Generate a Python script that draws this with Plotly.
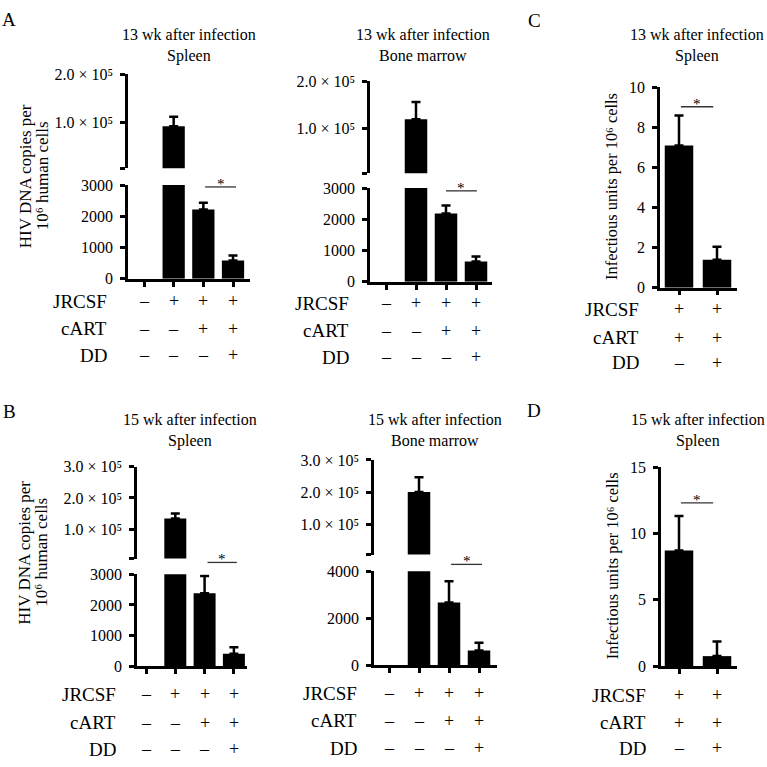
import plotly.graph_objects as go

W = H = 767
FONT = "Liberation Serif"

# ---------------- data ----------------
groups4 = [0, 1, 2, 3]
groups2 = [0, 1]
row_names = ["JRCSF", "cART", "DD"]
signs4 = [["–", "+", "+", "+"], ["–", "–", "+", "+"], ["–", "–", "–", "+"]]
signs2 = [["+", "+"], ["+", "+"], ["–", "+"]]

a_spleen_mean = [0, 92000, 2220, 590]
a_spleen_err = [0, 20000, 220, 160]
a_bm_mean = [0, 119000, 2190, 650]
a_bm_err = [0, 37000, 250, 160]
b_spleen_mean = [0, 134000, 2380, 400]
b_spleen_err = [0, 16000, 570, 220]
b_bm_mean = [0, 200000, 2670, 625]
b_bm_err = [0, 46000, 910, 330]
c_mean = [7.1, 1.4]
c_err = [1.5, 0.65]
d_mean = [8.7, 0.75]
d_err = [2.6, 1.1]

low_ticks_3000 = [0, 1000, 2000, 3000]
low_ticks_4000 = [0, 2000, 4000]
up_ticks_2e5 = [100000, 200000]
up_ticks_3e5 = [100000, 200000, 300000]
up_labels_2e5 = ["1.0 × 10⁵", "2.0 × 10⁵"]
up_labels_3e5 = ["1.0 × 10⁵", "2.0 × 10⁵", "3.0 × 10⁵"]
c_ticks = [0, 2, 4, 6, 8, 10]
d_ticks = [0, 5, 10, 15]

title_a_spleen = "13 wk after infection<br>Spleen"
title_a_bm = "13 wk after infection<br>Bone marrow"
title_c = "13 wk after infection<br>Spleen"
title_b_spleen = "15 wk after infection<br>Spleen"
title_b_bm = "15 wk after infection<br>Bone marrow"
title_d = "15 wk after infection<br>Spleen"
ytitle_dna_1 = "HIV DNA copies per"
ytitle_dna_2 = "10⁶ human cells"
ytitle_iu = "Infectious units per 10⁶ cells"


def fx(px):
    return px / W


def fy(py):
    return 1 - py / H


fig = go.Figure()
layout = dict(annotations=[], shapes=[])
counters = {"x": 0, "y": 0}


def new_axis(kind):
    counters[kind] += 1
    n = counters[kind]
    name = f"{kind}axis" if n == 1 else f"{kind}axis{n}"
    ref = kind if n == 1 else f"{kind}{n}"
    return name, ref


def axis_style():
    return dict(showline=True, linecolor="black", linewidth=2.5, ticks="outside",
                ticklen=5, tickwidth=2.5, tickcolor="black", showgrid=False,
                zeroline=False, fixedrange=True,
                tickfont=dict(family=FONT, size=16, color="black"))


def text(x, y, s, size=16, xref="paper", xanchor="center", yanchor="middle", angle=0):
    layout["annotations"].append(dict(
        x=x, y=y, xref=xref, yref="paper", text=s, showarrow=False,
        xanchor=xanchor, yanchor=yanchor, textangle=angle,
        font=dict(family=FONT, size=size, color="black")))


def err_style(arr):
    return dict(type="data", symmetric=False, array=arr, arrayminus=[0] * len(arr),
                color="black", thickness=2.5, width=4.5, visible=True)


def make_x(groups, g, yref):
    n = len(groups)
    xname, xref = new_axis("x")
    r0 = -(g["tick0"] - g["xl"]) / g["dx"]
    r1 = (n - 1) + (g["xr"] - g["tick0"] - (n - 1) * g["dx"]) / g["dx"]
    ax = axis_style()
    ax.update(domain=[fx(g["xl"]), fx(g["xr"])], range=[r0, r1], anchor=yref,
              tickvals=groups, showticklabels=False)
    return xname, xref, ax


def add_rows(g, xref, groups, signs, rows_y):
    for r, name in enumerate(row_names):
        text(fx(g["label_x"]), fy(rows_y[r]), name, size=19, xanchor="right")
        for i, s in enumerate(signs[r]):
            text(groups[i], fy(rows_y[r]), s, size=18, xref=xref)


def add_sig(xref, x0, x1, py):
    layout["shapes"].append(dict(type="line", xref=xref, yref="paper", x0=x0, x1=x1,
                                 y0=fy(py), y1=fy(py), line=dict(color="#333333", width=1.3)))
    text((x0 + x1) / 2, fy(py - 3), "*", size=15, xref=xref, yanchor="middle")


def bar_trace(groups, vals, err, xref, yref):
    return go.Bar(x=groups, y=vals, width=0.75, marker=dict(color="black", line=dict(width=0)),
                  error_y=err_style(err), xaxis=xref, yaxis=yref, showlegend=False,
                  hoverinfo="skip")


def broken_panel(mean, err, groups, g):
    ylo_name, ylo_ref = new_axis("y")
    yhi_name, yhi_ref = new_axis("y")
    xname, xref, xax = make_x(groups, g, ylo_ref)
    layout[xname] = xax

    low_top = g["low_top"]
    ylo = axis_style()
    ylo.update(domain=[fy(g["low_px0"]), fy(g["low_pxtop"])], anchor=xref,
               range=[0, low_top * 1.002], tickvals=g["low_ticks"],
               ticktext=[str(v) for v in g["low_ticks"]], ticklabelstandoff=4)
    layout[ylo_name] = ylo

    lo, hi = g["up_lo"], g["up_hi"]
    pad = (hi - lo) * 0.002
    yhi = axis_style()
    yhi.update(domain=[fy(g["up_pxlo"]), fy(g["up_pxhi"])], anchor=xref,
               range=[lo - pad, hi + pad], tickvals=[lo] + g["up_ticks"],
               ticktext=[" "] + g["up_labels"], ticklabelstandoff=4)
    layout[yhi_name] = yhi

    low_vals = [m if m > 0 else None for m in mean]
    err_low = [e if m < low_top else 0 for m, e in zip(mean, err)]
    fig.add_trace(bar_trace(groups, low_vals, err_low, xref, ylo_ref))
    up_vals = [m if m > lo else None for m in mean]
    fig.add_trace(bar_trace(groups, up_vals, err, xref, yhi_ref))
    return xref


def simple_panel(mean, err, groups, g):
    yname, yref = new_axis("y")
    xname, xref, xax = make_x(groups, g, yref)
    layout[xname] = xax
    ya = axis_style()
    ya.update(domain=[fy(g["px0"]), fy(g["pxtop"])], anchor=xref,
              range=[0, g["top"] * 1.002], tickvals=g["ticks"], ticklabelstandoff=4)
    layout[yname] = ya
    fig.add_trace(bar_trace(groups, mean, err, xref, yref))
    return xref


# ---------------- panel A spleen ----------------
gA1 = dict(xl=128, xr=250, tick0=144, dx=29.67, label_x=109,
           low_px0=277, low_pxtop=181, low_top=3000, low_ticks=low_ticks_3000,
           up_lo=4000, up_hi=200000, up_pxlo=164, up_pxhi=68,
           up_ticks=up_ticks_2e5, up_labels=up_labels_2e5)
xr = broken_panel(a_spleen_mean, a_spleen_err, groups4, gA1)
add_rows(gA1, xr, groups4, signs4, [300, 328, 355])
add_sig(xr, 2.06, 3.1, 183)
text(fx(189), fy(38), title_a_spleen, size=16)

# ---------------- panel A bone marrow ----------------
gA2 = dict(xl=370, xr=492, tick0=386, dx=30, label_x=351,
           low_px0=280, low_pxtop=184, low_top=3000, low_ticks=low_ticks_3000,
           up_lo=4000, up_hi=200000, up_pxlo=169, up_pxhi=75,
           up_ticks=up_ticks_2e5, up_labels=up_labels_2e5)
xr = broken_panel(a_bm_mean, a_bm_err, groups4, gA2)
add_rows(gA2, xr, groups4, signs4, [302, 330, 357])
add_sig(xr, 2.0, 3.03, 187)
text(fx(423), fy(38), title_a_bm, size=16)

# ---------------- panel C ----------------
gC = dict(xl=660, xr=737, tick0=679, dx=38, label_x=641, px0=286, pxtop=81, top=10, ticks=c_ticks)
xr = simple_panel(c_mean, c_err, groups2, gC)
add_rows(gC, xr, groups2, signs2, [308, 337, 363])
add_sig(xr, 0.05, 0.9, 101)
text(fx(697), fy(38), title_c, size=16)

# ---------------- panel B spleen ----------------
gB1 = dict(xl=137, xr=247, tick0=146, dx=29.3, label_x=118,
           low_px0=673, low_pxtop=579, low_top=3000, low_ticks=low_ticks_3000,
           up_lo=6000, up_hi=300000, up_pxlo=563, up_pxhi=469,
           up_ticks=up_ticks_3e5, up_labels=up_labels_3e5)
xr = broken_panel(b_spleen_mean, b_spleen_err, groups4, gB1)
add_rows(gB1, xr, groups4, signs4, [702, 731, 758])
add_sig(xr, 2.1, 3.1, 567)
text(fx(190), fy(432), title_b_spleen, size=16)

# ---------------- panel B bone marrow ----------------
gB2 = dict(xl=374, xr=497, tick0=389, dx=30, label_x=359,
           low_px0=672, low_pxtop=576, low_top=4000, low_ticks=low_ticks_4000,
           up_lo=6000, up_hi=300000, up_pxlo=559, up_pxhi=462,
           up_ticks=up_ticks_3e5, up_labels=up_labels_3e5)
xr = broken_panel(b_bm_mean, b_bm_err, groups4, gB2)
add_rows(gB2, xr, groups4, signs4, [701, 729, 757])
add_sig(xr, 2.07, 3.1, 569)
text(fx(435), fy(432), title_b_bm, size=16)

# ---------------- panel D ----------------
gD = dict(xl=661, xr=737, tick0=679, dx=38, label_x=648, px0=673, pxtop=469, top=15, ticks=d_ticks)
xr = simple_panel(d_mean, d_err, groups2, gD)
add_rows(gD, xr, groups2, signs2, [703, 731, 757])
add_sig(xr, 0.05, 0.9, 506)
text(fx(698), fy(432), title_d, size=16)

# ---------------- axis titles & panel letters ----------------
text(fx(25), fy(172), ytitle_dna_1, size=17, angle=-90)
text(fx(42), fy(172), ytitle_dna_2, size=17, angle=-90)
text(fx(25), fy(557), ytitle_dna_1, size=17, angle=-90)
text(fx(42), fy(557), ytitle_dna_2, size=17, angle=-90)
text(fx(612), fy(183), ytitle_iu, size=16.4, angle=-90)
text(fx(612), fy(571), ytitle_iu, size=16.4, angle=-90)
text(fx(9), fy(12), "A", size=19)
text(fx(9), fy(413), "B", size=19)
text(fx(534), fy(13), "C", size=19)
text(fx(534), fy(412), "D", size=19)

layout.update(width=W, height=H, margin=dict(l=0, r=0, t=0, b=0),
              paper_bgcolor="white", plot_bgcolor="rgba(0,0,0,0)",
              showlegend=False, barmode="overlay",
              font=dict(family=FONT, color="black"))
fig.update_layout(**layout)
fig.write_html("out.html", config={"displayModeBar": False},
               post_script="document.body.style.margin='0px';")
